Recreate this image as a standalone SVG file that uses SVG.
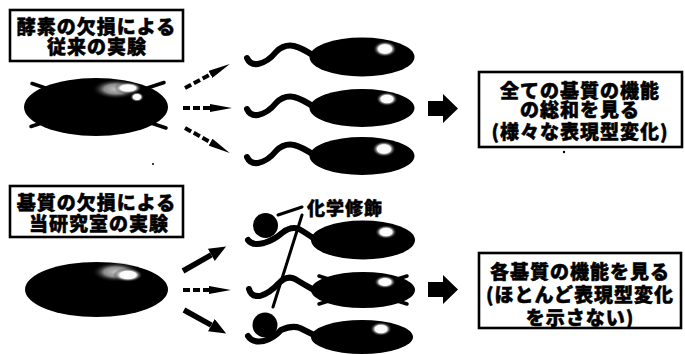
<svg xmlns="http://www.w3.org/2000/svg" width="685" height="354" viewBox="0 0 685 354">
  <style>
    .box { fill: #fff; stroke: #000; stroke-width: 2.6; }
    .t { font-family: "Noto Sans CJK JP", "Noto Sans", sans-serif; font-weight: 900; font-size: 19px; letter-spacing: 1px; fill: #000; stroke: #000; stroke-width: 0.5; text-anchor: middle; dominant-baseline: central; }
    .body { fill: #000; }
    .tail { fill: none; stroke: #000; stroke-width: 6; stroke-linecap: round; stroke-linejoin: round; }
    .ball { fill: #000; }
    .cross { stroke: #000; stroke-width: 3.5; stroke-linecap: round; }
    .dash { fill: none; stroke: #000; stroke-width: 4; stroke-dasharray: 7 3; }
    .solid { fill: none; stroke: #000; stroke-width: 5.5; }
    .thin { fill: none; stroke: #000; stroke-width: 3; stroke-linecap: round; }
  </style>
  <defs>
    <radialGradient id="shine" cx="0.5" cy="0.5" r="0.5">
      <stop offset="0" stop-color="#fff"/>
      <stop offset="0.55" stop-color="#fafafa"/>
      <stop offset="1" stop-color="#000" stop-opacity="0"/>
    </radialGradient>
    <radialGradient id="haze" cx="0.5" cy="0.5" r="0.5">
      <stop offset="0" stop-color="#ddd"/>
      <stop offset="0.5" stop-color="#999"/>
      <stop offset="1" stop-color="#000" stop-opacity="0"/>
    </radialGradient>
    <marker id="slim" viewBox="0 -4 22 8" markerWidth="22" markerHeight="8" refX="0" refY="0" orient="auto" markerUnits="userSpaceOnUse">
      <path d="M0,-4 L22,0 L0,4 Z" fill="#000"/>
    </marker>
    <marker id="wide" viewBox="0 -7 17 14" markerWidth="17" markerHeight="14" refX="0" refY="0" orient="auto" markerUnits="userSpaceOnUse">
      <path d="M0,-7 L17,0 L0,7 Z" fill="#000"/>
    </marker>
    <!-- sperm tail, relative to head centre -->
    <path id="wave" d="M-115,1 Q-112,8 -104,7 Q-94,5 -86,-5 Q-78,-13 -68,-11 Q-60,-9 -48,-1"/>
  </defs>

  <!-- upper row: enzyme knockout -->
  <g id="label-enzyme">
    <rect class="box" x="10" y="10" width="173" height="51"/>
    <text class="t" x="96.5" y="25">酵素の欠損による</text>
    <text class="t" x="97" y="45">従来の実験</text>
  </g>

  <g id="cell-enzyme">
    <line class="cross" x1="32" y1="83.5" x2="166" y2="128"/>
    <line class="cross" x1="164" y1="82.5" x2="31" y2="126.5"/>
    <ellipse class="body" cx="96" cy="107" rx="72" ry="29"/>
    <ellipse cx="116" cy="89" rx="24" ry="10" fill="url(#haze)" opacity="0.9"/>
    <ellipse cx="128" cy="88" rx="14" ry="6" fill="url(#shine)"/>
    <ellipse cx="137" cy="97" rx="7" ry="5" fill="url(#shine)"/>
  </g>

  <g id="sperm-a1">
    <use href="#wave" class="tail" transform="translate(362,57)"/>
    <ellipse class="body" cx="362" cy="57" rx="52.5" ry="19.5"/>
    <ellipse cx="385" cy="49" rx="12" ry="8" fill="url(#shine)"/>
  </g>
  <g id="sperm-a2">
    <use href="#wave" class="tail" transform="translate(362,108)"/>
    <ellipse class="body" cx="362" cy="108" rx="52.5" ry="19"/>
    <ellipse cx="387" cy="99" rx="11" ry="7" fill="url(#shine)"/>
  </g>
  <g id="sperm-a3">
    <use href="#wave" class="tail" transform="translate(362,156)"/>
    <ellipse class="body" cx="362" cy="156" rx="52.5" ry="19"/>
    <ellipse cx="384" cy="149" rx="12" ry="8" fill="url(#shine)"/>
  </g>

  <g id="result-all">
    <rect class="box" x="479" y="72" width="203" height="75"/>
    <text class="t" x="580" y="89.5">全ての基質の機能</text>
    <text class="t" x="580" y="108.5">の総和を見る</text>
    <text class="t" x="580" y="130">(様々な表現型変化)</text>
  </g>

  <!-- lower row: substrate knockout -->
  <g id="label-substrate">
    <rect class="box" x="10" y="186" width="173" height="51"/>
    <text class="t" x="96.5" y="201">基質の欠損による</text>
    <text class="t" x="99" y="222">当研究室の実験</text>
  </g>

  <g id="cell-substrate">
    <ellipse class="body" cx="96.5" cy="289.5" rx="71.5" ry="27.5"/>
    <ellipse cx="116" cy="272" rx="24" ry="10" fill="url(#haze)" opacity="0.9"/>
    <ellipse cx="128" cy="275" rx="15" ry="7" fill="url(#shine)"/>
  </g>

  <g id="sperm-b1">
    <path class="tail" d="M248,240 Q252,246 264,243 Q274,240 282,233 Q291,226 299,229 Q306,233 316,240"/>
    <circle class="ball" cx="265.5" cy="225.5" r="12.5"/>
    <ellipse class="body" cx="363" cy="240" rx="52" ry="19.5"/>
    <ellipse cx="386" cy="232" rx="11" ry="7" fill="url(#shine)"/>
  </g>
  <g id="sperm-b2">
    <path class="tail" d="M249,289 Q251,297 260,296 Q270,293 279,283 Q287,275 295,279 Q303,284 314,290"/>
    <line class="cross" x1="319" y1="276" x2="407" y2="304" stroke-width="3"/>
    <line class="cross" x1="407" y1="276" x2="319" y2="304" stroke-width="3"/>
    <ellipse class="body" cx="363" cy="290" rx="52" ry="18"/>
    <ellipse cx="385" cy="282" rx="11" ry="6.5" fill="url(#shine)"/>
  </g>
  <g id="sperm-b3">
    <path class="tail" d="M248,336 Q252,343 264,341 Q274,338 281,330 Q292,325 300,328 Q306,331 316,336"/>
    <circle class="ball" cx="265" cy="325" r="12.5"/>
    <ellipse class="body" cx="362" cy="337" rx="51" ry="17"/>
    <ellipse cx="381" cy="329" rx="11" ry="7" fill="url(#shine)"/>
  </g>

  <g id="label-modification">
    <text class="t" x="345" y="207" style="font-size:18px">化学修飾</text>
    <line class="thin" x1="278" y1="215" x2="302" y2="207"/>
    <line class="thin" x1="302" y1="215" x2="273" y2="307"/>
  </g>

  <g id="result-each">
    <rect class="box" x="479" y="253" width="202" height="75"/>
    <text class="t" x="580" y="270">各基質の機能を見る</text>
    <text class="t" x="580" y="293">(ほとんど表現型変化</text>
    <text class="t" x="580" y="316">を示さない)</text>
  </g>

  <!-- connectors -->
  <g id="connectors">
    <path class="dash" d="M185,88 L210.4,74.4" marker-end="url(#slim)"/>
    <path class="dash" d="M183,108 L210,108" marker-end="url(#slim)"/>
    <path class="dash" d="M185,128 L210.5,142.2" marker-end="url(#slim)"/>

    <path class="solid" d="M183,271 L211.3,254.9" marker-end="url(#wide)"/>
    <path class="dash" d="M183,290 L209,290" marker-end="url(#slim)"/>
    <path class="solid" d="M184,310 L211.3,325.2" marker-end="url(#wide)"/>

    <polygon points="428,101 443,101 443,94 458,108.5 443,123 443,116 428,116" fill="#000"/>
    <polygon points="428,282 443,282 443,275 458,289.5 443,304 443,297 428,297" fill="#000"/>
  </g>

  <circle cx="153" cy="164" r="1" fill="#000"/>
  <circle cx="564" cy="152" r="1.2" fill="#000"/>
</svg>
